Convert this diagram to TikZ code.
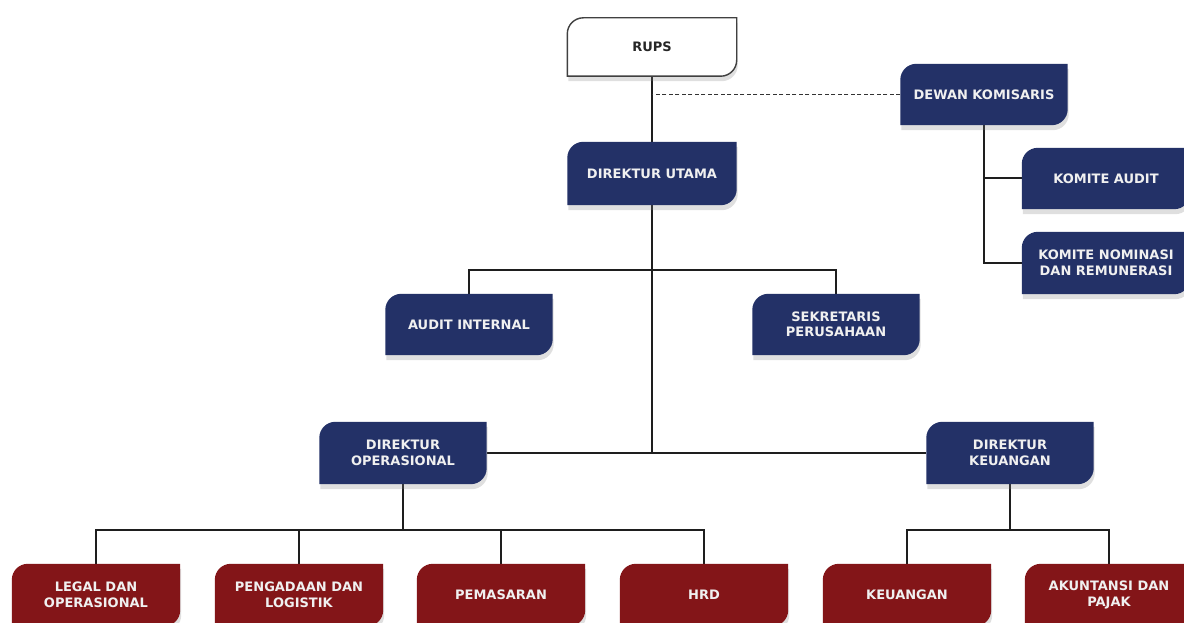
\documentclass[tikz,border=0pt]{standalone}
\usepackage{fontspec}
\setmainfont{DejaVu Sans}
\usetikzlibrary{calc,backgrounds,shadows}
\definecolor{navy}{RGB}{35,49,103}
\definecolor{maroon}{RGB}{131,21,24}
\definecolor{linecol}{RGB}{30,30,30}
\newcommand\boxoutline[1]{([yshift=-16pt]#1.north west) arc[start angle=180,end angle=90,radius=16pt]
    -- (#1.north east) -- ([yshift=16pt]#1.south east) arc[start angle=0,end angle=-90,radius=16pt]
    -- (#1.south west) -- cycle}
\newcommand\shapebox[3]{%
  \fill[#2,drop shadow={shadow xshift=1pt,shadow yshift=-5pt,opacity=0.25}] \boxoutline{#1};
  \if1#3
  \draw[draw=black!75,line width=1.4pt] \boxoutline{#1};
  \fi}
\tikzset{
  orgbox/.style={rectangle,minimum width=168pt,minimum height=62pt,align=center,
    text=white!94!black,font=\fontsize{13}{15.5}\selectfont\bfseries,inner sep=0pt},
  conn/.style={draw=linecol,line width=2pt},
}
\begin{document}
\begin{tikzpicture}[x=1pt,y=1pt]
\clip (0,0) rectangle (1184,-623);
% nodes
\node[orgbox,text=black!85,minimum width=169pt,minimum height=58pt] (rups) at (652,-47) {RUPS};
\node[orgbox,minimum width=167pt,minimum height=61pt] (dk) at (984,-94.5) {DEWAN KOMISARIS};
\node[orgbox,minimum width=169pt,minimum height=63pt] (du) at (652,-173.5) {DIREKTUR UTAMA};
\node[orgbox,minimum height=61pt] (ka) at (1106,-178.5) {KOMITE AUDIT};
\node[orgbox] (kn) at (1106,-263) {KOMITE NOMINASI\\DAN REMUNERASI};
\node[orgbox,minimum width=167pt,minimum height=61pt] (ai) at (469,-324.5) {AUDIT INTERNAL};
\node[orgbox,minimum width=167pt,minimum height=61pt] (sp) at (836,-324.5) {SEKRETARIS\\PERUSAHAAN};
\node[orgbox,minimum width=167pt] (do) at (403,-453) {DIREKTUR\\OPERASIONAL};
\node[orgbox,minimum width=167pt] (dke) at (1010,-453) {DIREKTUR\\KEUANGAN};
\node[orgbox] (lg) at (96,-595) {LEGAL DAN\\OPERASIONAL};
\node[orgbox] (pg) at (299,-595) {PENGADAAN DAN\\LOGISTIK};
\node[orgbox] (pm) at (501,-595) {PEMASARAN};
\node[orgbox] (hr) at (704,-595) {HRD};
\node[orgbox] (ku) at (907,-595) {KEUANGAN};
\node[orgbox] (ak) at (1109,-595) {AKUNTANSI DAN\\PAJAK};
\begin{pgfonlayer}{background}
\fill[white] (0,0) rectangle (1184,-623);
% connectors
\draw[conn] (rups.south) -- (du.north);
\draw[conn,line width=1.5pt,dash pattern=on 4pt off 2.5pt,draw=black!80] (dk.west) -- (dk.west -| rups.south);
\draw[conn] (dk.south) |- (kn.west);
\draw[conn] (dk.south |- ka.west) -- (ka.west);
\draw[conn] (du.south) -- (du.south |- do.east);
\draw[conn] (do.east) -- (dke.west);
\draw[conn] (ai.north) -- ++(0,24) -| (sp.north);
\draw[conn] (do.south) -- ++(0,-46) coordinate (ob);
\draw[conn] (lg.north) -- ++(0,34) -| (hr.north);
\draw[conn] (pg.north) -- (pg.north |- ob);
\draw[conn] (pm.north) -- (pm.north |- ob);
\draw[conn] (dke.south) -- ++(0,-46) coordinate (kb);
\draw[conn] (ku.north) -- ++(0,34) -| (ak.north);
% box fills
\shapebox{rups}{white}{1}
\shapebox{dk}{navy}{0}
\shapebox{du}{navy}{0}
\shapebox{ka}{navy}{0}
\shapebox{kn}{navy}{0}
\shapebox{ai}{navy}{0}
\shapebox{sp}{navy}{0}
\shapebox{do}{navy}{0}
\shapebox{dke}{navy}{0}
\shapebox{lg}{maroon}{0}
\shapebox{pg}{maroon}{0}
\shapebox{pm}{maroon}{0}
\shapebox{hr}{maroon}{0}
\shapebox{ku}{maroon}{0}
\shapebox{ak}{maroon}{0}
\end{pgfonlayer}
\end{tikzpicture}
\end{document}
